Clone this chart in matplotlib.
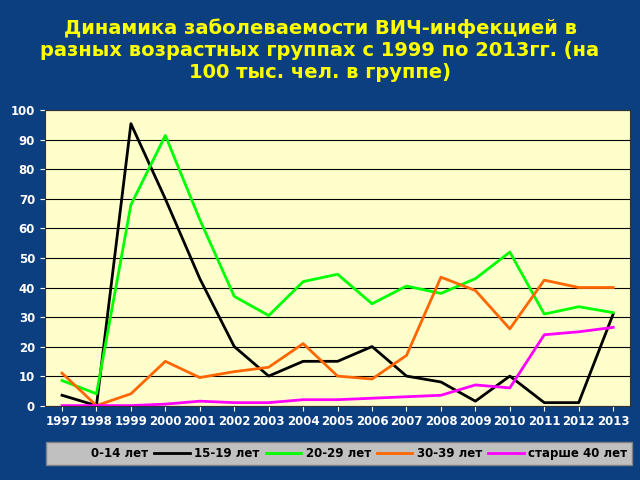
import matplotlib
matplotlib.use("Agg")
import matplotlib.pyplot as plt
import numpy as np

years = [str(y) for y in range(1997, 2014)]
g0_14 = [np.nan]*17
g15_19 = [3.5, 0, 95.5, 70, 43, 20, 10, 15, 15, 20, 10, 8, 1.5, 10, 1, 1, 31]
g20_29 = [8.5, 4, 68, 91.5, 63, 37, 30.5, 42, 44.5, 34.5, 40.5, 38, 43, 52, 31, 33.5, 31.5]
g30_39 = [11, 0, 4, 15, 9.5, 11.5, 13, 21, 10, 9, 17, 43.5, 39, 26, 42.5, 40, 40]
g40 = [0, 0, 0, 0.5, 1.5, 1, 1, 2, 2, 2.5, 3, 3.5, 7, 6, 24, 25, 26.5]

fig = plt.figure(figsize=(6.4, 4.8), dpi=100)
fig.patch.set_facecolor('#0b3f80')
ax = fig.add_axes([0.070, 0.155, 0.915, 0.615])
ax.set_facecolor('#ffffcc')
x = np.arange(len(years))
ax.plot(x, g0_14, color='#c0c0c0', lw=2, label='0-14 лет')
ax.plot(x, g15_19, color='black', lw=2, label='15-19 лет')
ax.plot(x, g20_29, color='#00ff00', lw=2, label='20-29 лет')
ax.plot(x, g30_39, color='#ff6600', lw=2, label='30-39 лет')
ax.plot(x, g40, color='#ff00ff', lw=2, label='старше 40 лет')
ax.set_xlim(-0.5, 16.5)
ax.set_ylim(0, 100)
ax.set_yticks(range(0, 101, 10))
ax.set_xticks(x)
ax.set_xticklabels(years)
ax.grid(axis='y', color='black', lw=0.8)
ax.tick_params(colors='white', labelsize=8.5)
for t in ax.get_xticklabels() + ax.get_yticklabels():
    t.set_fontweight('bold')
for s in ax.spines.values():
    s.set_color('#333333')
leg = fig.legend(loc='center', bbox_to_anchor=(0.53, 0.055), ncol=5, frameon=True,
                 fancybox=False, handlelength=3, columnspacing=0.5, handletextpad=0.4,
                 prop={'weight': 'bold', 'size': 8.5})
leg.get_frame().set_facecolor('#c0c0c0')
leg.get_frame().set_edgecolor('#808080')
leg.get_frame().set_alpha(1)
fig.text(0.5, 0.895, 'Динамика заболеваемости ВИЧ-инфекцией в\nразных возрастных группах с 1999 по 2013гг. (на\n100 тыс. чел. в группе)',
         ha='center', va='center', color='#ffff00', fontsize=14, fontweight='bold', linespacing=1.2)
fig.savefig('out.png', dpi=100, facecolor=fig.get_facecolor())
